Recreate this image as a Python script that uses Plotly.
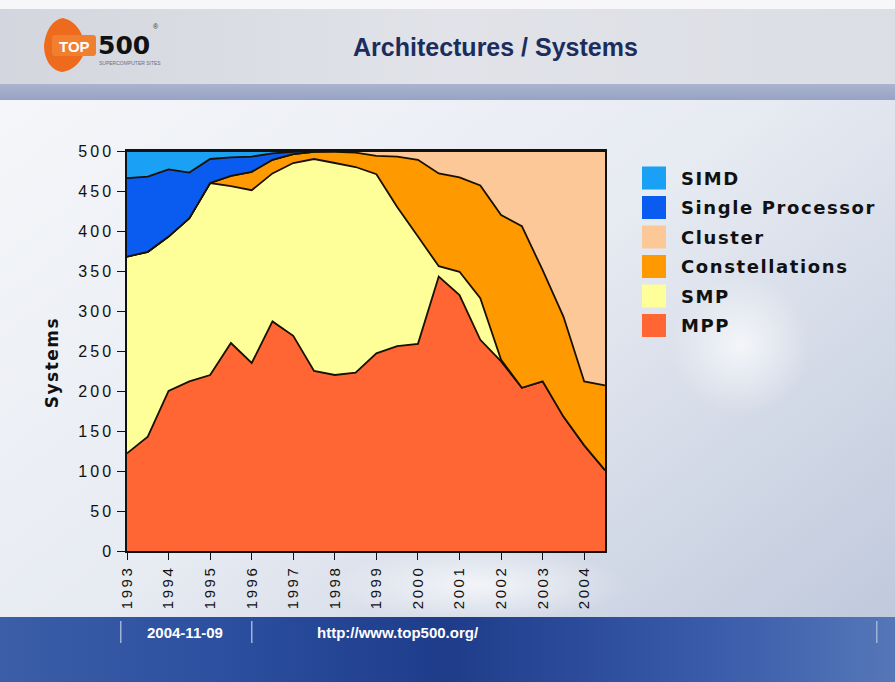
import base64
import plotly.graph_objects as go

# ---- data (TOP500 lists, June / November) ----
lists = ["1993-06", "1993-11", "1994-06", "1994-11", "1995-06", "1995-11",
         "1996-06", "1996-11", "1997-06", "1997-11", "1998-06", "1998-11",
         "1999-06", "1999-11", "2000-06", "2000-11", "2001-06", "2001-11",
         "2002-06", "2002-11", "2003-06", "2003-11", "2004-06", "2004-11"]
tick_lists = lists[::2]
tick_years = ["1993", "1994", "1995", "1996", "1997", "1998",
              "1999", "2000", "2001", "2002", "2003", "2004"]

mpp = [122, 143, 200, 212, 220, 260, 235, 287, 269, 225, 220, 223,
       247, 256, 259, 343, 320, 264, 237, 204, 212, 168, 132, 101]
smp = [246, 231, 193, 204, 240, 196, 216, 185, 216, 265, 265, 257,
       224, 174, 134, 13, 29, 52, 2, 0, 0, 0, 0, 0]
constellations = [0, 0, 0, 0, 0, 13, 23, 17, 11, 9, 14, 18,
                  23, 63, 96, 116, 118, 141, 181, 202, 139, 125, 80, 106]
cluster = [0, 0, 0, 0, 0, 0, 0, 0, 0, 0, 1, 2,
           6, 7, 11, 28, 33, 43, 80, 94, 149, 207, 288, 293]
single_processor = [98, 94, 84, 57, 30, 23, 19, 8, 3, 1, 0, 0,
                    0, 0, 0, 0, 0, 0, 0, 0, 0, 0, 0, 0]
simd = [34, 32, 23, 27, 10, 8, 7, 3, 1, 0, 0, 0,
        0, 0, 0, 0, 0, 0, 0, 0, 0, 0, 0, 0]

series = [  # bottom to top
    ("MPP", mpp, "#ff6633"),
    ("SMP", smp, "#ffff99"),
    ("Constellations", constellations, "#ff9900"),
    ("Cluster", cluster, "#fdc898"),
    ("Single Processor", single_processor, "#0a5cf0"),
    ("SIMD", simd, "#1aa0f5"),
]

W, H = 895, 682
L, R, T, B = 127, 605, 151, 551

fig = go.Figure()
for name, vals, col in series:
    fig.add_trace(go.Scatter(
        x=lists, y=vals, name=name, mode="lines", stackgroup="one",
        line=dict(color="#1a1000", width=1.8), fillcolor=col,
        showlegend=False))

# ---- background as svg ----
svg = f'''<svg xmlns="http://www.w3.org/2000/svg" width="{W}" height="{H}" viewBox="0 0 {W} {H}">
<defs>
<linearGradient id="bg" x1="0" y1="0" x2="1" y2="1">
<stop offset="0" stop-color="#f7f8fb"/><stop offset="0.5" stop-color="#e7ebf2"/><stop offset="1" stop-color="#bcc6da"/></linearGradient>
<linearGradient id="hd" x1="0" y1="0" x2="1" y2="0">
<stop offset="0" stop-color="#d3d6de"/><stop offset="0.5" stop-color="#e1e3e9"/><stop offset="1" stop-color="#dcdee5"/></linearGradient>
<linearGradient id="bd" x1="0" y1="0" x2="0" y2="1">
<stop offset="0" stop-color="#aab4cf"/><stop offset="1" stop-color="#96a3c4"/></linearGradient>
<linearGradient id="ft" x1="0" y1="0" x2="1" y2="0">
<stop offset="0" stop-color="#3c5ea8"/><stop offset="0.25" stop-color="#2c4f9f"/><stop offset="0.5" stop-color="#1e3c8a"/><stop offset="0.8" stop-color="#3a5cab"/><stop offset="1" stop-color="#5577b8"/></linearGradient>
<radialGradient id="gl" cx="0.5" cy="0.5" r="0.5">
<stop offset="0" stop-color="#ffffff" stop-opacity="0.7"/><stop offset="1" stop-color="#ffffff" stop-opacity="0"/></radialGradient>
</defs>
<rect x="0" y="0" width="{W}" height="{H}" fill="url(#bg)"/>
<ellipse cx="480" cy="585" rx="150" ry="38" fill="url(#gl)"/>
<ellipse cx="740" cy="345" rx="70" ry="70" fill="url(#gl)"/>
<rect x="0" y="0" width="{W}" height="9" fill="#f7f7f9"/>
<rect x="0" y="9" width="{W}" height="75" fill="url(#hd)"/>
<rect x="0" y="84" width="{W}" height="16" fill="url(#bd)"/>
<rect x="0" y="617" width="{W}" height="65" fill="url(#ft)"/>
<rect x="120" y="621" width="1.5" height="22" fill="#9fb2da"/>
<rect x="251" y="621" width="1.5" height="22" fill="#9fb2da"/>
<rect x="876" y="621" width="1.5" height="22" fill="#9fb2da"/>
<path d="M63,18 C80,22 84,40 86,46 C84,58 76,70 62,72 C50,70 44,58 44,45 C46,30 52,20 63,18 Z" fill="#ee6a1c"/>
<rect x="52" y="35" width="44" height="21" rx="3" fill="#f08030"/>
</svg>'''
src = "data:image/svg+xml;base64," + base64.b64encode(svg.encode()).decode()
fig.add_layout_image(dict(source=src, xref="paper", yref="paper",
                          x=-L / (R - L), y=1 + T / (B - T),
                          sizex=W / (R - L), sizey=H / (B - T),
                          xanchor="left", yanchor="top", sizing="stretch",
                          layer="below"))


def px(xp):
    return (xp - L) / (R - L)


def py(yp):
    return (B - yp) / (B - T)


ann = []
# title
ann.append(dict(text="<b>Architectures / Systems</b>", x=px(495), y=py(47), xref="paper", yref="paper",
                showarrow=False, font=dict(family="Liberation Sans, Arial", size=25, color="#1b2d5c"),
                xanchor="center", yanchor="middle"))
# logo text
ann.append(dict(text="<b>TOP</b>", x=px(74), y=py(46), xref="paper", yref="paper", showarrow=False,
                font=dict(family="Liberation Sans, Arial", size=15, color="white"), xanchor="center", yanchor="middle"))
ann.append(dict(text="<b>500</b>", x=px(96), y=py(45), xref="paper", yref="paper", showarrow=False,
                font=dict(family="DejaVu Sans, Liberation Sans", size=25, color="#111111"),
                xanchor="left", yanchor="middle"))
ann.append(dict(text="®", x=px(151), y=py(27), xref="paper", yref="paper", showarrow=False,
                font=dict(family="Liberation Sans, Arial", size=7, color="#333333"), xanchor="left", yanchor="middle"))
ann.append(dict(text="SUPERCOMPUTER SITES", x=px(97), y=py(63), xref="paper", yref="paper", showarrow=False,
                font=dict(family="Liberation Sans", size=5, color="#6a6f80"),
                xanchor="left", yanchor="middle"))
# footer
ann.append(dict(text="<b>2004-11-09</b>", x=px(145), y=py(632), xref="paper", yref="paper", showarrow=False,
                font=dict(family="Liberation Sans, Arial", size=15, color="white"),
                xanchor="left", yanchor="middle"))
ann.append(dict(text="<b>http://www.top500.org/</b>", x=px(315), y=py(632), xref="paper", yref="paper",
                showarrow=False, font=dict(family="Liberation Sans, Arial", size=15, color="white"),
                xanchor="left", yanchor="middle"))
# y axis title
ann.append(dict(text="<b>Systems</b>", x=px(52), y=py(363), xref="paper", yref="paper", showarrow=False,
                textangle=-90, font=dict(family="DejaVu Sans, Liberation Sans", size=17, color="#111111"),
                xanchor="center", yanchor="middle"))

# custom legend (top to bottom)
shapes = []
leg_y0 = 178
for k, (name, vals, col) in enumerate(reversed(series)):
    cy = leg_y0 + k * 29.5
    shapes.append(dict(type="rect", xref="paper", yref="paper",
                       x0=px(642), x1=px(666), y0=py(cy - 11.5), y1=py(cy + 11.5),
                       fillcolor=col, line=dict(width=0)))
    ann.append(dict(text=f"<b>{name}</b>", x=px(679), y=py(cy), xref="paper", yref="paper",
                    showarrow=False, xanchor="left", yanchor="middle", align="left",
                    font=dict(family="DejaVu Sans, Liberation Sans", size=18, color="#111111")))

fig.update_layout(
    width=W, height=H,
    margin=dict(l=L, r=W - R, t=T, b=H - B),
    paper_bgcolor="#e9ecf3", plot_bgcolor="rgba(0,0,0,0)",
    annotations=ann, shapes=shapes, showlegend=False,
    font=dict(family="Liberation Sans, Arial", color="#111111"),
)
fig.update_xaxes(type="category", range=[0, len(lists) - 1], tickmode="array",
                 tickvals=tick_lists, ticktext=tick_years, tickangle=-90,
                 ticks="outside", ticklen=7, tickwidth=1.3, tickcolor="#111111",
                 showline=True, linecolor="#111111", linewidth=1.5, mirror=True,
                 showgrid=False, zeroline=False, automargin=False,
                 tickfont=dict(family="Liberation Sans, Arial", size=15, color="#111111"))
fig.update_yaxes(range=[0, 500], dtick=50, ticks="outside", ticklen=8, tickwidth=1.3,
                 tickcolor="#111111", showline=True, linecolor="#111111", linewidth=1.5,
                 mirror=True, showgrid=False, zeroline=False, automargin=False,
                 tickfont=dict(family="Liberation Sans, Arial", size=16, color="#111111"))

legend_names = [s[0] for s in series]
post = """
document.body.style.margin = '0';
document.body.style.overflow = 'hidden';
var gd = document.getElementById('{plot_id}');
gd.querySelectorAll('.xtick text').forEach(function(t){ t.style.letterSpacing = '2.5px'; });
gd.querySelectorAll('.ytick text').forEach(function(t){ t.style.letterSpacing = '3px'; });
var names = %s;
gd.querySelectorAll('.annotation-text').forEach(function(t){
  var s = t.textContent;
  if (names.indexOf(s) >= 0) { t.style.letterSpacing = '1.6px'; }
  if (s === 'Systems') { t.style.letterSpacing = '1.5px'; }
});
""" % str(legend_names).replace("'", '"')

fig.write_html("out.html", post_script=post, config={"displayModeBar": False})
